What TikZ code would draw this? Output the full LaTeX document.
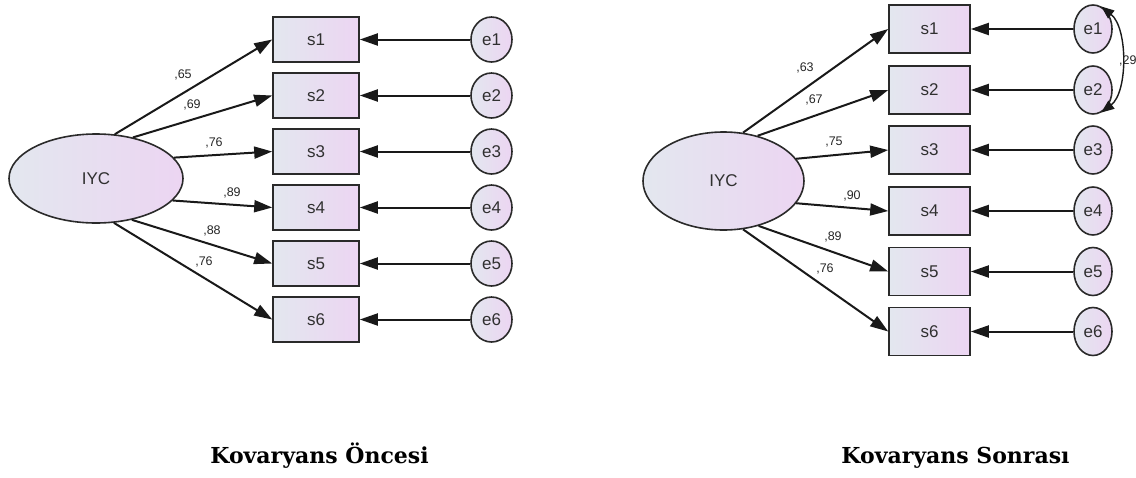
\documentclass[tikz,border=0pt]{standalone}
\usepackage{fontspec}
\setsansfont{Liberation Sans}
\newfontfamily\titlefont{DejaVu Serif}
\usetikzlibrary{arrows.meta,shapes.geometric}
\definecolor{fillL}{HTML}{E3E7EF}
\definecolor{fillR}{HTML}{ECD5F2}
\definecolor{edgec}{HTML}{2A2A2A}
\definecolor{txt}{HTML}{303030}
\begin{document}
\begin{tikzpicture}[x=1pt,y=-1pt,
  semshape/.style={draw=edgec, line width=1.6pt, left color=fillL, right color=fillR, inner sep=0pt,
    text=txt, font=\sffamily\fontsize{17}{17}\selectfont},
  latent/.style={semshape, ellipse},
  obsL/.style={semshape, rectangle, minimum width=86pt, minimum height=45pt},
  obsR/.style={semshape, rectangle, minimum width=81pt, minimum height=48pt},
  errL/.style={semshape, ellipse, minimum width=41pt, minimum height=45pt},
  errR/.style={semshape, ellipse, minimum width=38pt, minimum height=48pt},
  semarrow/.style={line width=2pt, draw=black!90, -{Triangle[length=18pt,width=12pt]}},
  covarrow/.style={line width=1.4pt, draw=black!90, {Triangle[length=13pt,width=10pt]}-{Triangle[length=13pt,width=10pt]}},
  lbl/.style={font=\sffamily\fontsize{12.5}{12.5}\selectfont, text=black!85, inner sep=0pt},
  titlelbl/.style={font=\titlefont\bfseries\fontsize{22}{22}\selectfont, anchor=base, inner sep=0pt}
]
\useasboundingbox (0,0) rectangle (1136,477);

% ---------- Left model ----------
\node[latent, minimum width=174pt, minimum height=89pt] (iycL) at (96,178.5) {IYC};
\foreach \i/\y in {1/39.5,2/95.5,3/151.5,4/207.5,5/263.5,6/319.5}{
  \node[obsL] (sL\i) at (316,\y) {s\i};
  \node[errL] (eL\i) at (491.5,\y) {e\i};
  \draw[semarrow] (eL\i.west) -- (sL\i.east);
}
\draw[semarrow] (iycL.67) -- (sL1.west);
\draw[semarrow] (iycL.48) -- (sL2.west);
\draw[semarrow] (iycL.15) -- (sL3.west);
\draw[semarrow] (iycL.-16) -- (sL4.west);
\draw[semarrow] (iycL.-49) -- (sL5.west);
\draw[semarrow] (iycL.-68) -- (sL6.west);
\node[lbl] (lL1) at (183,75) {,65};
\node[lbl] (lL2) at (192,105) {,69};
\node[lbl] (lL3) at (214,143) {,76};
\node[lbl] (lL4) at (232,193) {,89};
\node[lbl] (lL5) at (212,231) {,88};
\node[lbl] (lL6) at (204,262) {,76};

% ---------- Right model ----------
\node[latent, minimum width=161pt, minimum height=98pt] (iycR) at (723.5,181) {IYC};
\foreach \i/\y in {1/29,2/90,3/150,4/211,5/271.5,6/331.5}{
  \node[obsR] (sR\i) at (929.5,\y) {s\i};
  \node[errR] (eR\i) at (1093,\y) {e\i};
  \draw[semarrow] (eR\i.west) -- (sR\i.east);
}
\draw[semarrow] (iycR.68) -- (sR1.west);
\draw[semarrow] (iycR.53) -- (sR2.west);
\draw[semarrow] (iycR.17) -- (sR3.west);
\draw[semarrow] (iycR.-17) -- (sR4.west);
\draw[semarrow] (iycR.-52) -- (sR5.west);
\draw[semarrow] (iycR.-68) -- (sR6.west);
\node[lbl] (lR1) at (805,68) {,63};
\node[lbl] (lR2) at (814,100) {,67};
\node[lbl] (lR3) at (834,142) {,75};
\node[lbl] (lR4) at (852,196) {,90};
\node[lbl] (lR5) at (833,237) {,89};
\node[lbl] (lR6) at (825,269) {,76};
\draw[covarrow] (eR1.70) .. controls (1128,28) and (1128,92) .. (eR2.-70);
\node[lbl, anchor=west] (lcov) at (1119,61) {,29};

% ---------- Titles ----------
\node[titlelbl] (tL) at (319.5,463) {Kovaryans Öncesi};
\node[titlelbl] (tR) at (955.5,463) {Kovaryans Sonrası};
\end{tikzpicture}
\end{document}
